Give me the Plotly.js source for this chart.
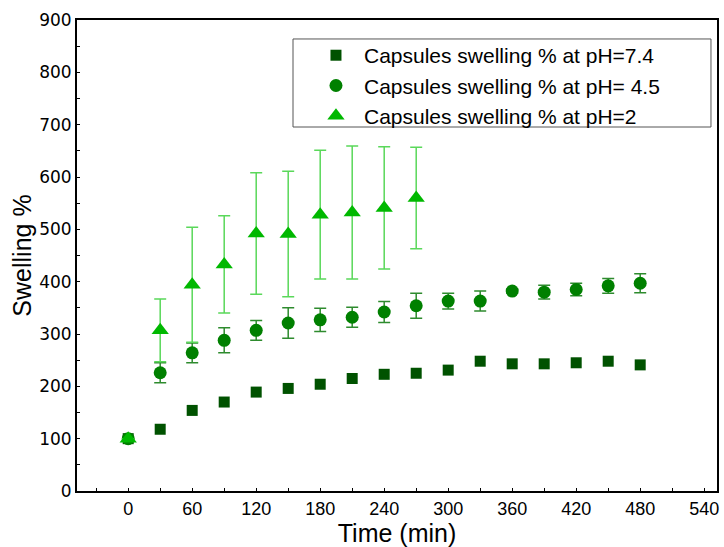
<!DOCTYPE html>
<html>
<head>
<meta charset="utf-8">
<script src="https://cdn.plot.ly/plotly-3.0.1.min.js"></script>
<style>html,body{margin:0;padding:0;background:#fff;}#chart{width:724px;height:547px;}</style>
</head>
<body>
<div id="chart"></div>
<script>
const timeAll = [0,30,60,90,120,150,180,210,240,270,300,330,360,390,420,450,480];
const swell74 = [100,118,154,170,189,196,204,215,223,225,231,248,243,243,245,248,241];
const swell45 = [100,226,264,288,307,321,327,332,342,354,363,363,382,380,385,392,397];
const err45   = [0,19,19,24,19,29,22,19,20,24,15,19,4,13,12,14,18];
const time2   = [0,30,60,90,120,150,180,210,240,270];
const swell2  = [100,307,394,433,492,491,528,532,541,560];
const err2    = [0,60,110,93,116,120,123,127,117,97];
const xTicks  = [0,60,120,180,240,300,360,420,480,540];
const yTicks  = [0,100,200,300,400,500,600,700,800,900];
const names = ['Capsules swelling % at pH=7.4','Capsules swelling % at pH= 4.5','Capsules swelling % at pH=2'];

const traces = [
  {x: timeAll, y: swell74, name: names[0], mode: 'markers', type: 'scatter',
   marker: {symbol: 'square', size: 11, color: '#005200'}},
  {x: timeAll, y: swell45, name: names[1], mode: 'markers', type: 'scatter',
   marker: {symbol: 'circle', size: 13, color: '#008000'},
   error_y: {type: 'data', array: err45, visible: true, color: '#2e8b2e', thickness: 1.5, width: 6}},
  {x: time2, y: swell2, name: names[2], mode: 'markers', type: 'scatter',
   marker: {symbol: 'triangle-up', size: 15, color: '#00b800'},
   error_y: {type: 'data', array: err2, visible: true, color: '#5ad85a', thickness: 1.5, width: 6}}
];

const layout = {
  width: 724, height: 547,
  margin: {l: 77, r: 7, t: 20, b: 56},
  paper_bgcolor: '#ffffff', plot_bgcolor: '#ffffff',
  font: {family: 'Liberation Sans, Arial, sans-serif', color: '#000', size: 16},
  showlegend: true,
  legend: {x: 0.3609, y: 0.968, xanchor: 'left', yanchor: 'top',
           borderwidth: 0, bgcolor: 'rgba(0,0,0,0)',
           font: {size: 21, color: '#000', family: 'Liberation Sans, Arial, sans-serif'},
           tracegroupgap: 0, itemwidth: 46},
  shapes: [{type: 'rect', xref: 'paper', yref: 'paper', x0: 0.3375, x1: 0.9906, y0: 0.7728, y1: 0.9597,
            line: {color: '#555', width: 1}, fillcolor: 'rgba(0,0,0,0)', layer: 'below'}],
  xaxis: {range: [-48, 552], tickvals: xTicks, ticktext: xTicks.map(String),
          showgrid: false, zeroline: false, showline: true, linecolor: '#000', linewidth: 2,
          mirror: true, ticks: 'inside', ticklen: 3, tickcolor: '#000',
          minor: {dtick: 30, tick0: 0, ticks: 'inside', ticklen: 3, tickcolor: '#000', showgrid: false},
          tickfont: {size: 18, color: '#000', family: 'Liberation Sans Narrow, Arial Narrow, Liberation Sans, sans-serif'},
          title: {text: 'Time (min)', font: {size: 25, color: '#000'}, standoff: 6}},
  yaxis: {range: [0, 900], tickvals: yTicks, ticktext: yTicks.map(String),
          showgrid: false, zeroline: false, showline: true, linecolor: '#000', linewidth: 2,
          mirror: true, ticks: 'inside', ticklen: 3, tickcolor: '#000',
          minor: {dtick: 50, tick0: 0, ticks: 'inside', ticklen: 3, tickcolor: '#000', showgrid: false},
          tickfont: {size: 17, color: '#000', family: 'DejaVu Sans, sans-serif'},
          title: {text: 'Swelling %', font: {size: 25, color: '#000'}, standoff: 0}}
};

Plotly.newPlot('chart', traces, layout, {displayModeBar: false, staticPlot: true});
</script>
</body>
</html>
